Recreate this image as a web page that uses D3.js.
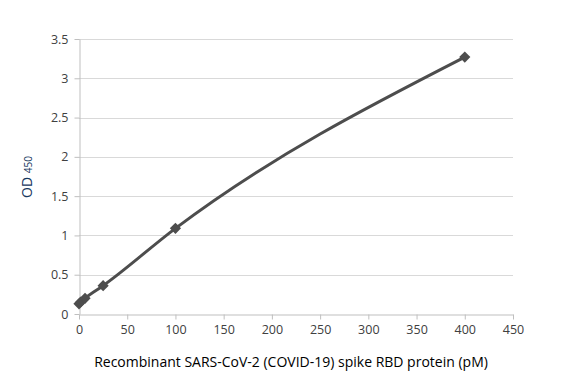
<!DOCTYPE html>
<html>
<head>
<meta charset="utf-8">
<script src="https://cdn.jsdelivr.net/npm/d3@7"></script>
<style>
	body { margin: 0; background: #fff; }
	svg { display: block; font-family: 'Open Sans', 'Liberation Sans', sans-serif; }
</style>
</head>
<body>
<svg></svg>
<script>
'use strict'

// concentration (pM) and OD450
let conc = [0, 1.56, 6.25, 25, 100, 400]
let od = [0.13, 0.15, 0.2, 0.36, 1.09, 3.27]

let xTicks = [0, 50, 100, 150, 200, 250, 300, 350, 400, 450]
let yTicks = [0, 0.5, 1, 1.5, 2, 2.5, 3, 3.5]

let width = 582,
	height = 382

let margin = { top: 39, right: 69, bottom: 68, left: 79 }
let innerW = width - margin.left - margin.right,
	innerH = height - margin.top - margin.bottom

let svg = d3.select('svg')
	.attr('width', width)
	.attr('height', height)

let x = d3.scaleLinear().domain([0, 450]).range([0, innerW])
let y = d3.scaleLinear().domain([0, 3.5]).range([innerH, 0])

let g = svg.append('g')
	.attr('transform', 'translate(' + margin.left + ',' + margin.top + ')')

// horizontal grid
g.append('g')
	.selectAll('line')
	.data(yTicks.slice(1))
	.enter().append('line')
	.attr('x1', 0)
	.attr('x2', innerW)
	.attr('y1', function(d) { return Math.round(y(d)) + 0.5 })
	.attr('y2', function(d) { return Math.round(y(d)) + 0.5 })
	.style('stroke', '#d9d9d9')
	.style('stroke-width', 1)

let xAxis = g.append('g')
	.attr('transform', 'translate(0,' + (innerH + 0.5) + ')')
	.call(d3.axisBottom(x).tickValues(xTicks).tickFormat(function(d) { return d })
		.tickSize(5).tickSizeOuter(0).tickPadding(6))

let yAxis = g.append('g')
	.attr('transform', 'translate(0.5,0)')
	.call(d3.axisLeft(y).tickValues(yTicks).tickFormat(function(d) { return d })
		.tickSize(5).tickSizeOuter(0).tickPadding(6))

;[xAxis, yAxis].forEach(function(a) {
	a.select('.domain').style('stroke', '#bfbfbf')
	a.selectAll('.tick line').style('stroke', '#bfbfbf')
	a.selectAll('.tick text')
		.style('font-size', '12.5px')
		.style('fill', '#404040')
		.style('font-family', "'Open Sans', sans-serif")
})

let points = conc.map(function(c, i) { return [c, od[i]] })

let line = d3.line()
	.x(function(d) { return x(d[0]) })
	.y(function(d) { return y(d[1]) })
	.curve(d3.curveMonotoneX)

g.append('path')
	.datum(points)
	.attr('d', line)
	.style('fill', 'none')
	.style('stroke', '#4d4d4d')
	.style('stroke-width', 3)

g.append('g')
	.selectAll('path')
	.data(points)
	.enter().append('path')
	.attr('d', d3.symbol().type(d3.symbolDiamond2).size(80))
	.attr('transform', function(d) {
		return 'translate(' + x(d[0]) + ',' + y(d[1]) + ')'
	})
	.style('fill', '#4d4d4d')

// axis titles
let yTitle = svg.append('text')
	.attr('transform', 'translate(32,' + 177 + ') rotate(-90)')
	.attr('text-anchor', 'middle')
	.style('font-size', '14px')
	.style('fill', '#17375e')
yTitle.append('tspan').text('OD ')
yTitle.append('tspan').text('450').style('font-size', '10px')

svg.append('text')
	.attr('x', 291)
	.attr('y', 367)
	.attr('text-anchor', 'middle')
	.style('font-size', '14px')
	.style('fill', '#000')
	.text('Recombinant SARS-CoV-2 (COVID-19) spike RBD protein (pM)')
</script>
</body>
</html>
